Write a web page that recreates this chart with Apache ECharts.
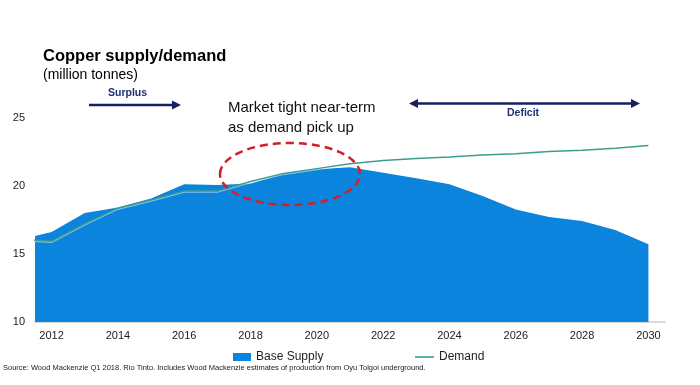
<!DOCTYPE html>
<html>
<head>
<meta charset="utf-8">
<script src="https://cdn.jsdelivr.net/npm/echarts@6/dist/echarts.min.js"></script>
<style>
html,body{margin:0;padding:0;background:#fff;}
#chart{width:700px;height:385px;}
</style>
</head>
<body>
<div id="chart"></div>
<script>
var years = [2011,2012,2013,2014,2015,2016,2017,2018,2019,2020,2021,2022,2023,2024,2025,2026,2027,2028,2029,2030];
var baseSupply = [16.02,16.6,18.0,18.4,19.05,20.1,20.05,20.15,20.9,21.2,21.35,20.95,20.55,20.1,19.25,18.25,17.7,17.4,16.75,15.7];
var demand = [16.06,15.92,17.2,18.35,18.95,19.6,19.6,20.3,20.9,21.25,21.6,21.85,22.0,22.1,22.25,22.35,22.5,22.6,22.75,22.95];
var yTicks = [10,15,20,25];
var seriesNames = ['Base Supply','Demand'];

var FONT = 'Arial, "Liberation Sans", sans-serif';
function pairs(vals){ return years.map(function(y,i){ return [y, vals[i]]; }); }

var chart = echarts.init(document.getElementById('chart'), null, {renderer:'canvas'});
var navy = '#15205e';
chart.setOption({
  animation:false,
  backgroundColor:'#ffffff',
  textStyle:{fontFamily:FONT},
  title:{
    text:'Copper supply/demand',
    subtext:'(million tonnes)',
    left:38, top:43, itemGap:3,
    textStyle:{fontFamily:FONT,fontSize:16.5,fontWeight:'bold',color:'#000'},
    subtextStyle:{fontFamily:FONT,fontSize:14,color:'#000'}
  },
  legend:[
    {data:[{name:seriesNames[0],icon:'rect'}], left:228, top:346, itemWidth:18, itemHeight:8,
     textStyle:{fontFamily:FONT,fontSize:12,color:'#222'}},
    {data:[{name:seriesNames[1],icon:'rect'}], left:410, top:346, itemWidth:19, itemHeight:2,
     textStyle:{fontFamily:FONT,fontSize:12,color:'#222'}}
  ],
  grid:{left:35,right:35,top:117.5,bottom:63,containLabel:false},
  xAxis:{
    type:'value', min:2011.5, max:2030.5, interval:0.5,
    axisLine:{show:true,lineStyle:{color:'#d9d9d9',width:2}},
    axisTick:{show:false},
    splitLine:{show:false},
    axisLabel:{
      fontFamily:FONT,fontSize:11,color:'#222',margin:8,
      showMinLabel:false, showMaxLabel:false,
      formatter:function(v){ return (Math.abs(v-Math.round(v))<1e-6 && Math.round(v)%2===0) ? String(Math.round(v)) : ''; }
    }
  },
  yAxis:{
    type:'value', min:yTicks[0], max:yTicks[yTicks.length-1], interval:5,
    axisLine:{show:false}, axisTick:{show:false}, splitLine:{show:false},
    axisLabel:{fontFamily:FONT,fontSize:11,color:'#222',margin:10}
  },
  series:[
    {name:seriesNames[0], type:'line', data:pairs(baseSupply), showSymbol:false, symbol:'none',
     clip:true, lineStyle:{width:0,opacity:0,color:'#0a84dc'}, itemStyle:{color:'#0a84dc'},
     areaStyle:{color:'#0a84dc',opacity:1,origin:'start'}, z:2},
    {name:seriesNames[1], type:'line', data:pairs(demand), showSymbol:false, symbol:'none',
     clip:true, itemStyle:{color:'#5fb2a6'},
     lineStyle:{width:1.5,color:'#3e9c8e',shadowColor:'rgba(255,255,255,0.5)',shadowBlur:0,shadowOffsetY:1}, z:3}
  ],
  graphic:[
    {type:'line', shape:{x1:89,y1:105,x2:174,y2:105}, style:{stroke:navy,lineWidth:2.5}},
    {type:'polygon', shape:{points:[[181,105],[172,100.5],[172,109.5]]}, style:{fill:navy}},
    {type:'text', left:108, top:88, style:{text:'Surplus',fontFamily:FONT,fontSize:10.5,fontWeight:'bold',fill:'#1f3070'}},
    {type:'line', shape:{x1:416,y1:103.5,x2:633,y2:103.5}, style:{stroke:navy,lineWidth:2.5}},
    {type:'polygon', shape:{points:[[409,103.5],[418,99],[418,108]]}, style:{fill:navy}},
    {type:'polygon', shape:{points:[[640,103.5],[631,99],[631,108]]}, style:{fill:navy}},
    {type:'text', left:507, top:108, style:{text:'Deficit',fontFamily:FONT,fontSize:10.5,fontWeight:'bold',fill:'#1f3070'}},
    {type:'text', left:228, top:98, style:{text:'Market tight near-term\nas demand pick up',fontFamily:FONT,fontSize:15,lineHeight:20,fill:'#111'}},
    {type:'ellipse', shape:{cx:290,cy:174,rx:70,ry:31}, z:10,
     style:{fill:null,stroke:'#d0202a',lineWidth:2.5,lineDash:[8,5]}},
    {type:'text', left:3, top:364, style:{text:'Source: Wood Mackenzie Q1 2018. Rio Tinto. Includes Wood Mackenzie estimates of production from Oyu Tolgoi underground.',fontFamily:FONT,fontSize:7.5,fill:'#222'}}
  ]
});
</script>
</body>
</html>
